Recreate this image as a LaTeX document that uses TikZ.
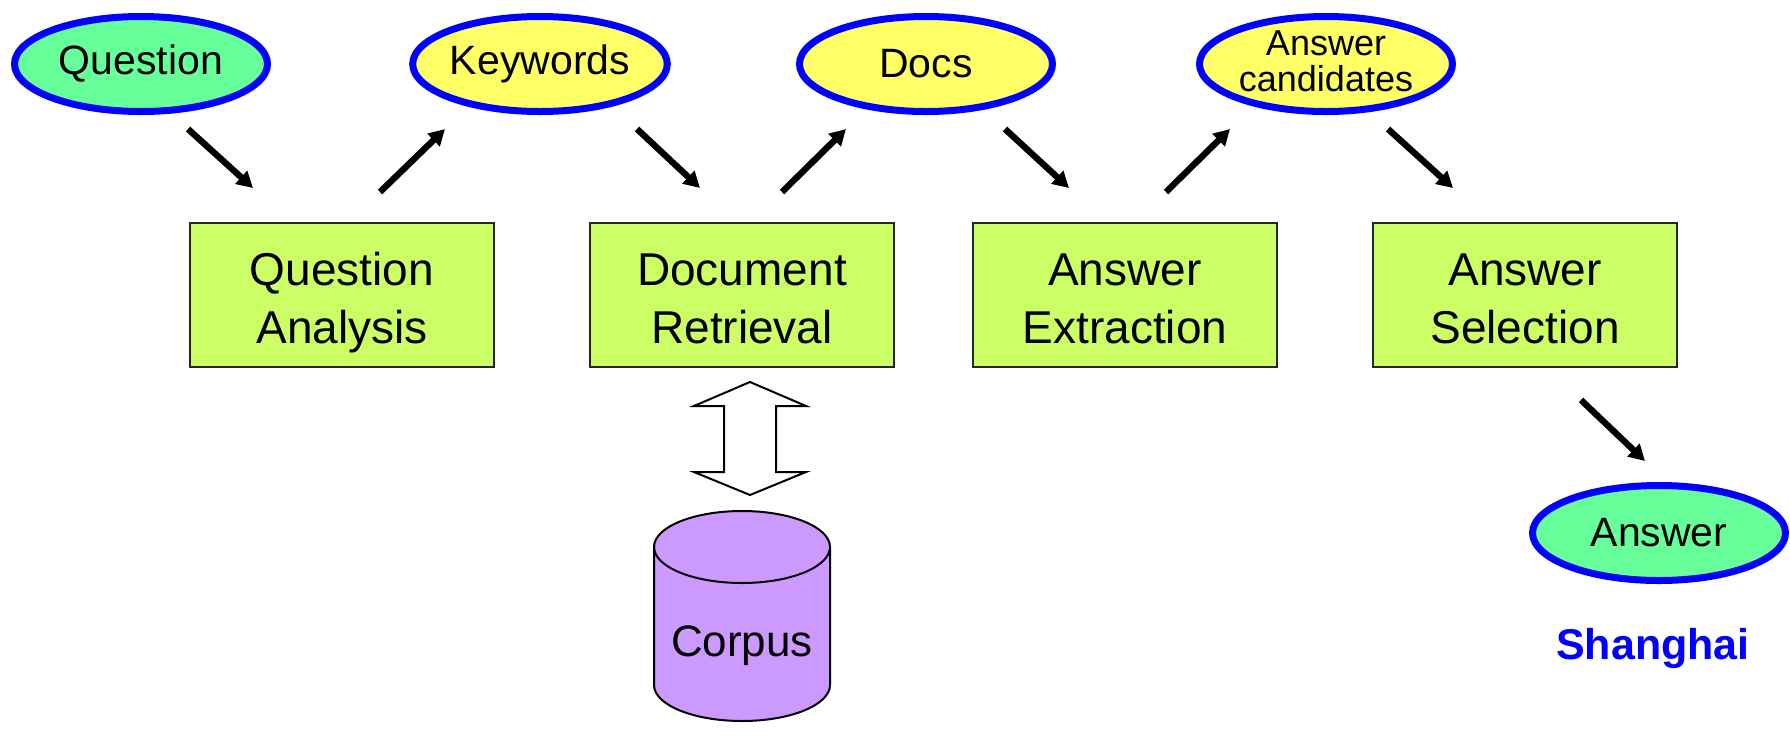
\documentclass[tikz,border=0pt]{standalone}
\usepackage{fontspec}
\setmainfont{Liberation Sans}
\usetikzlibrary{shapes.geometric,arrows.meta}

\definecolor{termgreen}{HTML}{66FF99}
\definecolor{termyellow}{HTML}{FFFF66}
\definecolor{termblue}{HTML}{0000FF}
\definecolor{stagegreen}{HTML}{CCFF66}
\definecolor{corpuspurple}{HTML}{CC99FF}

\begin{document}
\begin{tikzpicture}[x=0.5pt,y=-0.5pt,>={Triangle[length=8pt,width=8.5pt]},
	term/.style={ellipse,draw=termblue,line width=3.5pt,inner sep=0pt,outer sep=0pt,
		minimum width=126.5pt,minimum height=47.5pt,align=center,
		font=\fontsize{20.5}{24}\selectfont},
	stage/.style={rectangle,draw=black!85,line width=1pt,fill=stagegreen,outer sep=0pt,
		minimum width=152pt,minimum height=72pt,align=center,
		text height=48pt,text depth=0pt,
		font=\fontsize{23}{29}\selectfont},
	flow/.style={line width=3.2pt,->}]
	\useasboundingbox (0,0) rectangle (1790,735);
	
	\node [term,fill=termgreen] (q) at (141,64) {Question};
	\node [term,fill=termyellow] (kw) at (540,64) {Keywords};
	\node [term,fill=termyellow] (docs) at (926,64) {Docs};
	\node [term,fill=termyellow,text height=27pt,text depth=0pt,
		font=\fontsize{18}{18}\selectfont] (ac) at (1326,64) {Answer\\candidates};
	
	\node [stage] (qa) at (342,295) {Question\\Analysis};
	\node [stage] (dr) at (742,295) {Document\\Retrieval};
	\node [stage] (ae) at (1125,295) {Answer\\Extraction};
	\node [stage] (as) at (1525,295) {Answer\\Selection};
	
	\node [term,fill=termgreen] (ans) at (1659,533) {Answer};
	\node [font=\fontsize{21.5}{24}\selectfont\bfseries,text=termblue] (city) at (1653,648) {Shanghai};
	
	\draw [flow] ([shift={(47,17.5)}]q.south) -- ([shift={(-89,-35)}]qa.north);
	\draw [flow] ([shift={(38,-31)}]qa.north) -- ([shift={(-95,17.5)}]kw.south);
	\draw [flow] ([shift={(97,17.5)}]kw.south) -- ([shift={(-42,-35)}]dr.north);
	\draw [flow] ([shift={(40,-31)}]dr.north) -- ([shift={(-80,17.5)}]docs.south);
	\draw [flow] ([shift={(79,17.5)}]docs.south) -- ([shift={(-56,-35)}]ae.north);
	\draw [flow] ([shift={(41,-31)}]ae.north) -- ([shift={(-96,17.5)}]ac.south);
	\draw [flow] ([shift={(62,17.5)}]ac.south) -- ([shift={(-72,-35)}]as.north);
	\draw [flow] ([shift={(56,33)}]as.south) -- ([shift={(-14,-24.5)}]ans.north);
	
	% corpus
	\draw [line width=1pt,fill=corpuspurple] (654,547) -- (654,685)
		arc [start angle=180,end angle=360,x radius=44pt,y radius=18pt] -- (830,547)
		arc [start angle=0,end angle=180,x radius=44pt,y radius=18pt] -- cycle;
	\draw [line width=1pt] (654,547) arc [start angle=180,end angle=360,x radius=44pt,y radius=18pt];
	\node [font=\fontsize{22}{24}\selectfont] (corpus) at (742,646) {Corpus};
	
	\draw [line width=1pt,fill=white] ([shift={(8,15)}]dr.south) -- ++(56,24) -- ++(-30,0)
		-- ++(0,66) -- ++(30,0) -- ++(-56,23) -- ++(-56,-23) -- ++(30,0) -- ++(0,-66)
		-- ++(-30,0) -- cycle;
\end{tikzpicture}
\end{document}
